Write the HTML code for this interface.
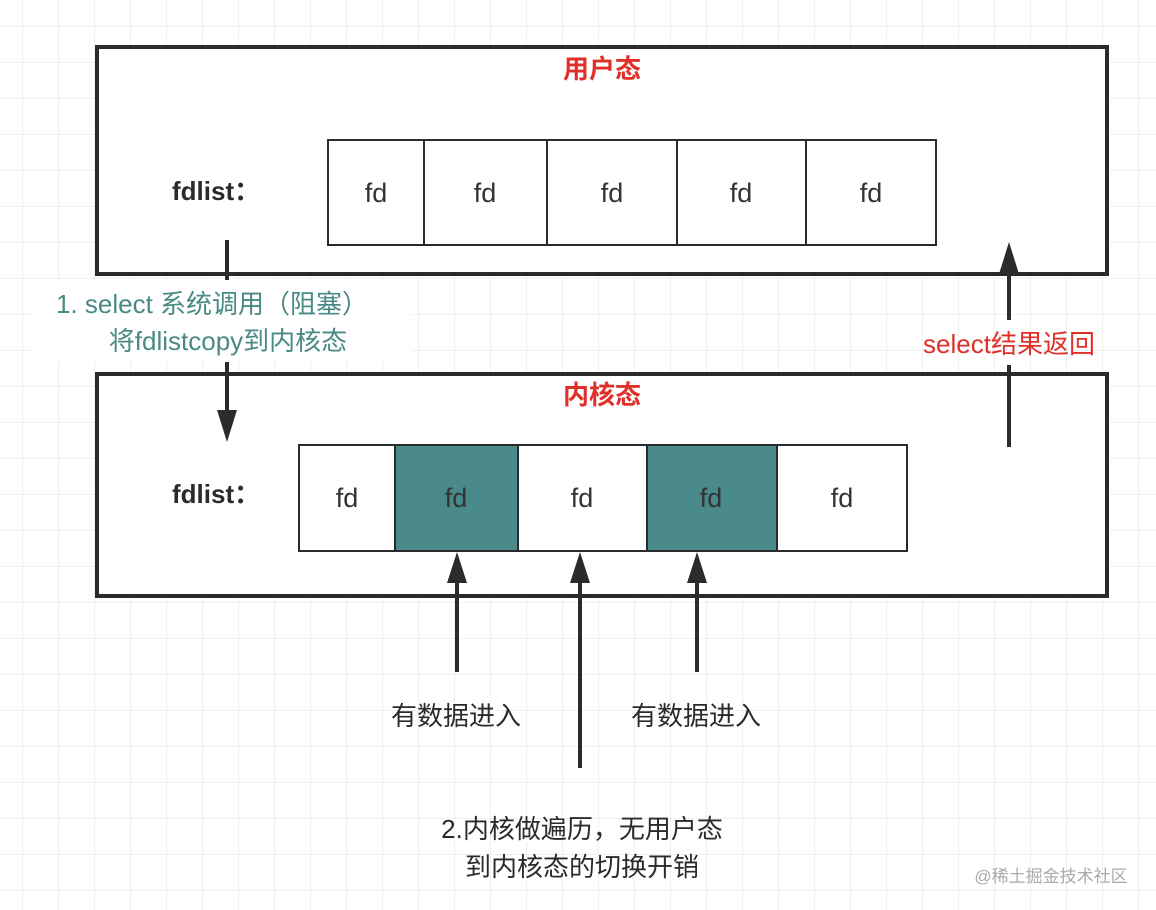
<!DOCTYPE html>
<html><head><meta charset="utf-8"><style>
html,body{margin:0;padding:0;background:#fff;}
svg{display:block;}
text{font-family:"Liberation Sans","Noto Sans CJK SC",sans-serif;}
</style></head><body>
<svg width="1156" height="910" viewBox="0 0 1156 910" xmlns="http://www.w3.org/2000/svg">
<defs>
<pattern id="g" x="22" y="26" width="36" height="36" patternUnits="userSpaceOnUse">
<path d="M0 0H36M0 0V36" stroke="#ebebeb" stroke-width="1.5" fill="none"/>
</pattern>
</defs>
<rect width="1156" height="910" fill="#fff"/>
<rect width="1156" height="910" fill="url(#g)"/>

<!-- top box -->
<rect x="97" y="47" width="1010" height="227" fill="#fff" stroke="#2b2b2b" stroke-width="4"/>
<text x="602" y="78" font-size="26" font-weight="bold" fill="#e0302a" text-anchor="middle">用户态</text>
<text x="172" y="200" font-size="26" font-weight="bold" fill="#2b2b2b">fdlist：</text>
<g stroke="#2b2b2b" stroke-width="2" fill="#fff">
<rect x="328" y="140" width="96" height="105"/>
<rect x="424" y="140" width="123" height="105"/>
<rect x="547" y="140" width="130" height="105"/>
<rect x="677" y="140" width="129" height="105"/>
<rect x="806" y="140" width="130" height="105"/>
</g>
<g font-size="27" fill="#333" text-anchor="middle">
<text x="376" y="202">fd</text><text x="485" y="202">fd</text><text x="612" y="202">fd</text><text x="741" y="202">fd</text><text x="871" y="202">fd</text>
</g>

<!-- bottom box -->
<rect x="97" y="374" width="1010" height="222" fill="#fff" stroke="#2b2b2b" stroke-width="4"/>
<text x="602" y="404" font-size="26" font-weight="bold" fill="#e0302a" text-anchor="middle">内核态</text>
<text x="172" y="503" font-size="26" font-weight="bold" fill="#2b2b2b">fdlist：</text>
<g stroke="#2b2b2b" stroke-width="2">
<rect x="299" y="445" width="96" height="106" fill="#fff"/>
<rect x="395" y="445" width="123" height="106" fill="#4a8a8b"/>
<rect x="518" y="445" width="129" height="106" fill="#fff"/>
<rect x="647" y="445" width="130" height="106" fill="#4a8a8b"/>
<rect x="777" y="445" width="130" height="106" fill="#fff"/>
</g>
<g font-size="27" fill="#333" text-anchor="middle">
<text x="347" y="507">fd</text><text x="456" y="507">fd</text><text x="582" y="507">fd</text><text x="711" y="507">fd</text><text x="842" y="507">fd</text>
</g>

<!-- left arrow -->
<g stroke="#2b2b2b" stroke-width="4">
<line x1="227" y1="240" x2="227" y2="280"/>
<line x1="227" y1="362" x2="227" y2="415"/>
</g>
<polygon points="217,410 237,410 227,442" fill="#2b2b2b"/>
<rect x="32" y="283" width="380" height="78" fill="#fff"/>
<text x="212" y="313" font-size="26" fill="#4a8a85" text-anchor="middle">1. select 系统调用（阻塞）</text>
<text x="228" y="350" font-size="26" fill="#4a8a85" text-anchor="middle">将fdlistcopy到内核态</text>

<!-- right arrow -->
<g stroke="#2b2b2b" stroke-width="4">
<line x1="1009" y1="270" x2="1009" y2="320"/>
<line x1="1009" y1="365" x2="1009" y2="447"/>
</g>
<polygon points="999,274 1019,274 1009,242" fill="#2b2b2b"/>
<text x="1009" y="353" font-size="26" fill="#e0302a" text-anchor="middle">select结果返回</text>

<!-- bottom arrows -->
<g stroke="#2b2b2b" stroke-width="4">
<line x1="457" y1="575" x2="457" y2="672"/>
<line x1="580" y1="575" x2="580" y2="768"/>
<line x1="697" y1="575" x2="697" y2="672"/>
</g>
<g fill="#2b2b2b">
<polygon points="447,583 467,583 457,552"/>
<polygon points="570,583 590,583 580,552"/>
<polygon points="687,583 707,583 697,552"/>
</g>
<g font-size="26" fill="#2b2b2b" text-anchor="middle">
<text x="456" y="725">有数据进入</text>
<text x="696" y="725">有数据进入</text>
<text x="582" y="838">2.内核做遍历，无用户态</text>
<text x="582" y="876">到内核态的切换开销</text>
</g>
<text x="1051" y="882" font-size="17" fill="#aaa" text-anchor="middle">@稀土掘金技术社区</text>
</svg>
</body></html>
